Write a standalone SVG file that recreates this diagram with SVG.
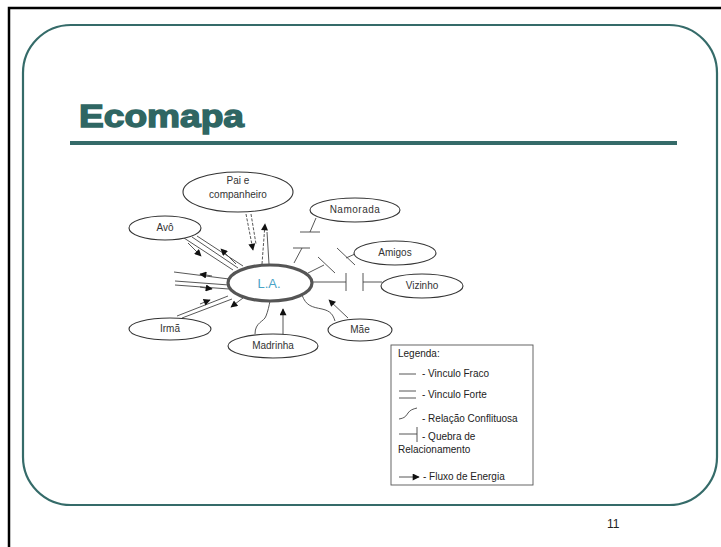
<svg xmlns="http://www.w3.org/2000/svg" width="721" height="547" viewBox="0 0 721 547">
  <defs>
    <marker id="arr" viewBox="0 0 10 10" refX="9" refY="5" markerWidth="8" markerHeight="7" markerUnits="userSpaceOnUse" orient="auto">
      <path d="M0,0 L10,5 L0,10 z" fill="#111"/>
    </marker>
    <style>
      .frame { fill: none; stroke: #000; stroke-width: 2.5; }
      .slide { fill: #fff; stroke: #356b69; stroke-width: 2.2; }
      .title { font-family: "Liberation Sans", Arial, sans-serif; font-weight: bold; font-size: 32px; fill: #2f6663; stroke: #2f6663; stroke-width: 1.4; }
      .rule { stroke: #356b69; stroke-width: 4; }
      .node { fill: #fff; stroke: #333; stroke-width: 1.1; }
      .center { fill: #fff; stroke: #555; stroke-width: 3.2; }
      .lbl { font-family: "Liberation Sans", Arial, sans-serif; font-size: 10px; fill: #333; text-anchor: middle; }
      .la { font-family: "Liberation Sans", Arial, sans-serif; font-size: 13px; fill: #4aa3c6; text-anchor: middle; }
      .ln { stroke: #444; stroke-width: 0.9; fill: none; }
      .dash { stroke: #444; stroke-width: 0.9; fill: none; stroke-dasharray: 3 1.5; }
      .leg { fill: #fff; stroke: #555; stroke-width: 0.9; }
      .legt { font-family: "Liberation Sans", Arial, sans-serif; font-size: 10px; fill: #222; }
      .num { font-family: "Liberation Sans", Arial, sans-serif; font-size: 12px; fill: #222; }
    </style>
  </defs>

  <rect width="721" height="547" fill="#fff"/>
  <!-- outer page frame -->
  <path class="frame" d="M9,547 V8 H721"/>
  <!-- slide panel -->
  <rect class="slide" x="23" y="25" width="694" height="480" rx="48" ry="48"/>

  <!-- heading -->
  <text class="title" x="79" y="127" textLength="165" lengthAdjust="spacingAndGlyphs">Ecomapa</text>
  <line class="rule" x1="70" y1="143" x2="677" y2="143"/>

  <!-- connectors -->
  <g id="connectors">
    <!-- Pai e companheiro -->
    <line class="dash" x1="246" y1="214" x2="253" y2="250" marker-end="url(#arr)"/>
    <line class="dash" x1="251" y1="214" x2="256" y2="244"/>
    <line class="dash" x1="262" y1="264" x2="265" y2="224" marker-end="url(#arr)"/>
    <line class="ln" x1="269" y1="264" x2="267" y2="232"/>
    <!-- Avó -->
    <line class="ln" x1="184" y1="238" x2="233" y2="270"/>
    <line class="ln" x1="192" y1="237" x2="238" y2="268"/>
    <line class="ln" x1="197" y1="236" x2="243" y2="266"/>
    <line class="ln" x1="188" y1="243" x2="201" y2="256" marker-end="url(#arr)"/>
    <line class="ln" x1="236" y1="264" x2="221" y2="249" marker-end="url(#arr)"/>
    <!-- left bundle -->
    <line class="ln" x1="174" y1="272" x2="229" y2="279"/>
    <line class="ln" x1="212" y1="276" x2="200" y2="274" marker-end="url(#arr)"/>
    <line class="ln" x1="175" y1="281" x2="229" y2="285"/>
    <line class="ln" x1="175" y1="285" x2="229" y2="289"/>
    <line class="ln" x1="200" y1="287" x2="212" y2="289" marker-end="url(#arr)"/>
    <!-- Irmã -->
    <line class="ln" x1="177" y1="316" x2="228" y2="296"/>
    <line class="ln" x1="182" y1="318" x2="232" y2="299"/>
    <line class="ln" x1="200" y1="304" x2="210" y2="300" marker-end="url(#arr)"/>
    <line class="ln" x1="243" y1="298" x2="231" y2="307" marker-end="url(#arr)"/>
    <!-- Madrinha -->
    <path class="ln" d="M255,334 C255,322 264,322 266,316 C268,311 269,306 270,301"/>
    <line class="ln" x1="283" y1="337" x2="283" y2="309" marker-end="url(#arr)"/>
    <!-- Mãe -->
    <path class="ln" d="M302,295 C306,306 312,307 322,309 C331,311 333,315 335,321"/>
    <line class="ln" x1="348" y1="318" x2="329" y2="300" marker-end="url(#arr)"/>
    <!-- Namorada -->
    <line class="ln" x1="316" y1="218" x2="310" y2="232"/>
    <line class="ln" x1="300" y1="232" x2="320" y2="232"/>
    <line class="ln" x1="294" y1="263" x2="302" y2="248"/>
    <line class="ln" x1="293" y1="248" x2="310" y2="248"/>
    <!-- Amigos -->
    <line class="ln" x1="308" y1="273" x2="324" y2="265"/>
    <line class="ln" x1="318" y1="257" x2="335" y2="273"/>
    <line class="ln" x1="346" y1="258" x2="355" y2="254"/>
    <line class="ln" x1="337" y1="248" x2="355" y2="265"/>
    <!-- Vizinho -->
    <line class="ln" x1="312" y1="282" x2="346" y2="282"/>
    <line class="ln" x1="346" y1="273" x2="346" y2="291"/>
    <line class="ln" x1="363" y1="273" x2="363" y2="291"/>
    <line class="ln" x1="363" y1="282" x2="382" y2="282"/>
  </g>

  <!-- nodes -->
  <g id="pai">
    <ellipse class="node" cx="238" cy="192" rx="55" ry="20"/>
    <text class="lbl" x="238" y="184">Pai e</text>
    <text class="lbl" x="238" y="198">companheiro</text>
  </g>
  <g id="avo">
    <ellipse class="node" cx="165" cy="228" rx="36" ry="12"/>
    <text class="lbl" x="165" y="231">Avô</text>
  </g>
  <g id="namorada">
    <ellipse class="node" cx="355" cy="210" rx="45" ry="12"/>
    <text class="lbl" x="355" y="213" letter-spacing="0.5">Namorada</text>
  </g>
  <g id="amigos">
    <ellipse class="node" cx="395" cy="253" rx="41" ry="12"/>
    <text class="lbl" x="395" y="256">Amigos</text>
  </g>
  <g id="vizinho">
    <ellipse class="node" cx="422" cy="286" rx="41" ry="12"/>
    <text class="lbl" x="422" y="289">Vizinho</text>
  </g>
  <g id="mae">
    <ellipse class="node" cx="360" cy="330" rx="32" ry="11"/>
    <text class="lbl" x="360" y="333">Mãe</text>
  </g>
  <g id="madrinha">
    <ellipse class="node" cx="273" cy="346" rx="45" ry="12"/>
    <text class="lbl" x="273" y="349">Madrinha</text>
  </g>
  <g id="irma">
    <ellipse class="node" cx="170" cy="329" rx="41" ry="11"/>
    <text class="lbl" x="170" y="332">Irmã</text>
  </g>
  <g id="la">
    <ellipse class="center" cx="270" cy="283" rx="42" ry="18"/>
    <text class="la" x="269" y="288">L.A.</text>
  </g>

  <!-- legend -->
  <g id="legend">
    <rect class="leg" x="391" y="345" width="142" height="140"/>
    <text class="legt" x="398" y="357">Legenda:</text>
    <line class="ln" x1="399" y1="374" x2="416" y2="374"/>
    <text class="legt" x="422" y="377">- Vinculo Fraco</text>
    <line class="ln" x1="399" y1="391" x2="416" y2="391"/>
    <line class="ln" x1="399" y1="398" x2="416" y2="398"/>
    <text class="legt" x="422" y="398">- Vinculo Forte</text>
    <path class="ln" d="M399,419 C405,418 406,416 408,413 C410,410 413,409 417,408"/>
    <text class="legt" x="422" y="422">- Relação Conflituosa</text>
    <line class="ln" x1="399" y1="434" x2="417" y2="434"/>
    <line class="ln" x1="417" y1="427" x2="417" y2="442"/>
    <text class="legt" x="422" y="440">- Quebra de</text>
    <text class="legt" x="398" y="453">Relacionamento</text>
    <line class="ln" x1="399" y1="477" x2="419" y2="477" marker-end="url(#arr)"/>
    <text class="legt" x="423" y="480">- Fluxo de Energia</text>
  </g>

  <text class="num" x="607" y="528">11</text>
</svg>
